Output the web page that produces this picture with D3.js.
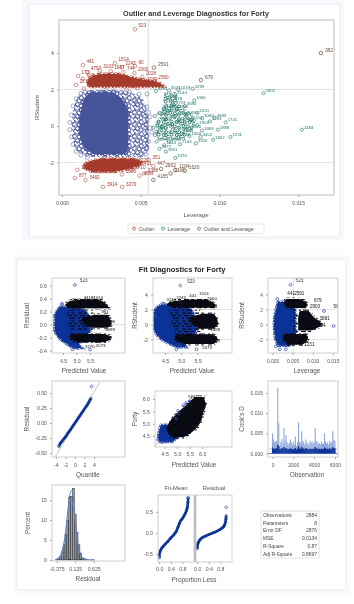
<!DOCTYPE html>
<html><head><meta charset="utf-8">
<script src="https://cdn.jsdelivr.net/npm/d3@7/dist/d3.min.js"></script>
<style>
html,body{margin:0;padding:0;background:#fff}
svg{display:block;filter:blur(0.35px)}
text{font-family:"Liberation Sans",Arial,sans-serif}
</style></head><body>
<svg id="c" width="354" height="604"></svg>
<script>
// ---------- data ----------
const topBlueRows=[[1.85,.0018,.0032],[1.5,.0014,.0038],[.8,.0012,.0042],[0,.0011,.0042],[-.8,.0012,.0042],[-1.25,.0015,.0042],[-1.55,.002,.004]];
const topBlueSpeck=[[1.95,.0014,.0038],[1.6,.001,.0050],[.8,.0007,.0054],[0,.0006,.0055],[-.8,.0007,.0055],[-1.3,.0009,.0055],[-1.7,.0016,.0051]];
const topBluePts=[[.0012,1.8],[.0009,1.5],[.0007,1.1],[.0006,.6],[.0005,.2],[.0005,-.2],[.0006,-.6],[.0007,-1],[.0009,-1.4],[.0012,-1.6],[.0016,-1.72],[.0028,1.98],[.0033,1.9],[.0037,1.82],[.0047,1.3],[.0052,1.02],[.0052,.55],[.0054,.3],[.0053,.05],[.0053,-.25],[.0054,-.55],[.0052,-.95],[.0054,-1.2],[.0053,-1.55],[.0049,-1.78],[.0054,1.75],[.0049,1.75],[.0043,1.85],[.0055,-.85],[.0056,-.1],[.0055,.75],[.0054,1.05],[.0056,.5],[.0057,-.35]];
const topRedHighRows=[[2.85,.0024,.0036],[2.6,.0017,.0048],[2.35,.0016,.0062],[2.15,.0018,.0065]];
const topRedHigh=[[.00464,5.3,"523"],[.00133,3.34,"441"],[.00337,3.45,"1514"],[.00381,3.23,"2243"],[.00464,3.29,"60"],[.00102,2.74,"173"],[.00133,2.58,"613"],[.00089,2.25,"22"],[.00162,2.95,"4797"],[.0024,3.05,"3103"],[.0031,3.0,"1987"],[.0039,2.95,"744"],[.0046,2.9,"2006"],[.0051,2.7,"1028"],[.0052,2.38,"3099"],[.0059,2.45,"2560"],[.0048,2.08,"1511"],[.0041,2.0,"85"],[.0014,2.05,"2204"],[.0019,2.3,"301"]];
const topRedLowRows=[[-1.8,.0025,.0045],[-2.0,.0016,.0051],[-2.25,.0014,.0046],[-2.5,.0019,.0034]];
const topRedLow=[[.00098,-2.4,"2411"],[.00082,-2.85,"877"],[.00149,-2.96,"3482"],[.0026,-3.34,"3914"],[.00382,-3.34,"3270"],[.00492,-2.72,"4884"],[.0038,-2.65,"1095"],[.0044,-2.4,"2710"],[.0048,-2.2,"1431"],[.0055,-1.85,"351"],[.0058,-2.2,"447"],[.0046,-2.05,"1222"],[.0052,-2.6,"3388"]];
const topGreen=[[.00596,1.92,"4231"],[.0068,1.95,"3571"],[.0074,2.0,"1019"],[.0083,2.05,"5299"],[.0072,1.7,"3144"],[.0066,1.5,"1207"],[.0069,1.35,"2818"],[.0071,1.15,"1733"],[.0065,1.0,"4410"],[.0073,.95,"2905"],[.0078,1.1,"3680"],[.0084,1.4,"1466"],[.0062,.72,"5150"],[.0067,.7,"2298"],[.0072,.55,"4077"],[.0079,.62,"1650"],[.0086,.72,"3320"],[.0065,.4,"2722"],[.0074,.3,"1194"],[.0082,.35,"5511"],[.0089,.42,"3069"],[.0097,.45,"4683"],[.0061,.2,"1306"],[.007,.1,"2450"],[.0078,.15,"3847"],[.0086,.05,"1902"],[.0094,.25,"5203"],[.0104,.2,"1741"],[.0058,-.1,"2147"],[.0064,-.05,"3591"],[.0072,-.25,"1288"],[.0081,-.15,"4326"],[.0089,-.25,"1869"],[.0099,-.2,"1888"],[.0059,-.5,"3017"],[.0066,-.5,"5074"],[.0074,-.6,"2722"],[.0081,-.55,"1360"],[.0088,-.6,"4452"],[.0096,-.75,"1802"],[.0107,-.6,"1231"],[.006,-.85,"2299"],[.0068,-.85,"4918"],[.0075,-1.0,"7144"],[.0085,-.95,"3356"],[.0065,-1.05,"1544"],[.0062,-1.25,"2677"],[.0066,-1.4,"3901"],[.0072,-1.75,"1370"],[.0128,1.8,"5902"],[.01524,-.2,"1484"],[.0059,.55,"2008"],[.006,-.3,"3412"],[.0068,.95,"4102"],[.0076,-.4,"1633"]];
const topGreenRows=[[1.85,.0065,.0073],[1.2,.0064,.0074],[.7,.0063,.0082],[.2,.006,.0085],[-.3,.0059,.0082],[-.75,.0061,.0078]];
const topBrown=[[.00584,3.2,"2591"],[.00883,2.52,"679"],[.01645,4.0,"382"],[.0078,-2.45,"1620"],[.0063,-2.35,"2902"],[.0072,-2.4,"1184"],[.0058,-2.95,"4185"],[.0069,-2.6,"1166"]];

const p1BlackTop=[[.39,5.35,5.8],[.35,4.7,6.0],[.29,4.6,6.15],[.25,4.9,6.2]];
const p1BlackMid=[[.15,5.65,6.15],[.08,5.2,6.25],[0,5.35,6.3],[-.05,5.55,6.15]];
const p1BlackLow=[[-.145,4.85,6.0],[-.18,4.75,6.25],[-.22,4.8,6.25],[-.27,5.05,6.05]];
const p1Scrib=[[.22,4.6,5.7],[.1,4.7,5.5],[0,4.7,5.6],[-.1,4.8,5.6]];
const p1Blue=[[.27,4.4,5.0],[.2,4.25,5.35],[.1,4.2,5.45],[0,4.2,5.5],[-.1,4.2,5.5],[-.2,4.35,5.3],[-.3,4.65,5.1],[-.36,4.9,5.2]];
const p1Labels=[[5.0,.38,"3141"],[5.45,.41,"4418"],[5.8,.42,"1514"],[5.95,.3,"2006"],[6.1,.2,"981"],[4.8,.32,"2243"],[6.25,.05,"1028"],[6.25,-.08,"3099"],[6.15,-.2,"4121"],[5.9,-.32,"2073"],[5.5,-.34,"3270"]];
const p1Out=[[4.94,.61,"523"],[4.47,.32,""],[4.45,.31,""],[4.2,.14,""],[5.5,-.385,""],[4.85,-.38,""],[4.95,-.33,""]];

const p2BlackTop=[[3.35,5.35,5.8],[3.0,4.65,5.95],[2.6,4.55,6.05],[2.25,4.95,6.05]];
const p2BlackMid=[[1.45,5.65,6.0],[.8,5.25,6.1],[0,5.35,6.12],[-.55,5.55,6.0]];
const p2BlackLow=[[-1.3,4.9,5.95],[-1.7,4.8,6.1],[-2.1,4.85,6.1],[-2.6,5.1,6.0]];
const p2Scrib=[[2,4.6,5.6],[1,4.7,5.5],[0,4.7,5.5],[-1,4.8,5.6]];
const p2Blue=[[2.6,4.35,4.9],[2,4.2,5.3],[1,4.15,5.4],[0,4.15,5.45],[-1,4.2,5.45],[-1.8,4.35,5.3],[-2.5,4.6,5.1],[-3,4.9,5.15]];
const p2Labels=[[4.7,3.4,"3114"],[5.0,3.65,"2243"],[5.4,3.85,"441"],[5.7,4.1,"1514"],[5.95,3.5,"2560"],[6.05,2.4,"981"],[6.05,-.7,"1028"],[6.05,-2.1,"3099"],[5.8,-3,"2073"]];
const p2Out=[[4.97,5.2,"523"],[4.42,2.8,""],[4.47,2.75,""],[4.2,1.1,""],[5.47,-3.3,""],[4.85,-3.3,""],[4.95,-2.9,""]];

const p3BlackTop=[[3.4,.0034,.0066],[3,.0029,.0083],[2.6,.003,.0086],[2.2,.0036,.0083]];
const p3BlackMid=[[1.8,.0068,.009],[1,.0064,.0103],[0,.0064,.0122],[-.8,.0064,.0096]];
const p3BlackLow=[[-1.25,.003,.0083],[-1.7,.0026,.0088],[-2.2,.0029,.0086],[-2.7,.0039,.0073]];
const p3Scrib=[[2,.0054,.0068],[0,.0052,.0065],[-1,.0052,.0065]];
const p3Blue=[[3.0,.0014,.0048],[2,.0009,.0056],[1,.0005,.0057],[0,.0004,.0057],[-1,.0005,.0058],[-2,.0008,.0056],[-2.8,.0014,.0042]];
const p3Labels=[[.0032,3.9,"441"],[.0049,3.9,"2591"],[.0098,3.0,"679"],[.0088,2.2,"2903"],[.0112,.6,"3881"],[.0108,-.35,"144"],[.0074,-2.9,"1231"],[.0147,2.2,"580"]];
const p3Out=[[.0045,5.3,"523"],[.0128,1.8,""],[.0152,-.2,""],[.0012,3.4,""],[.0033,-3.3,""],[.0018,-3.3,""],[.0008,-2.9,""]];

const qqPts=[[-3.4,-.39],[-3.1,-.34],[-2.8,-.31],[-2.5,-.28],[-2.2,-.25],[-1.9,-.22],[-1.6,-.18],[-1.3,-.15],[-1,-.115],[-.7,-.08],[-.4,-.045],[-.1,-.01],[.2,.025],[.5,.06],[.8,.095],[1.1,.13],[1.4,.165],[1.7,.2],[2,.235],[2.3,.27],[2.6,.305],[2.9,.345],[3.2,.39],[3.35,.41]];
const qqOut=[[3.5,.61]];
const qqRef=[[-4.05,-.55],[5.3,.69]];

const p5Black=[[6.08,5.7,6.05],[5.75,5.35,6.15],[5.47,5.05,6.05],[5,4.65,5.9],[4.66,4.6,5.6],[4.45,4.8,5.25]];
const p5Blue=[[4.95,4.35,4.7],[4.7,4.28,4.9],[4.45,4.25,5.0],[4.27,4.3,4.8]];
const p5BlueEdge=[[5.03,5.53,""],[5.25,5.75,""],[5.35,5.85,""],[5.5,5.92,""],[5.05,5.4,""],[4.95,5.2,""],[4.22,4.35,""],[4.4,4.25,""]];
const p5Labels=[[5.6,6.1,"5631"]];
const p5Ref=[[4.05,4.05],[6.2,6.2]];

const cookLight=[.005,.0035,.0028,.003,.0032,.0162,.0075,.002,.0028,.0036,.0025,.0064,.0032,.0045,.0028,.0022,.0026,.0035,.0028,.0022,.003,.0022,.0042,.0018,.0028,.0077,.003,.0024,.0055,.0032,.0028,.0022,.0035,.0028,.0024,.0022,.0032,.0026,.003,.0024,.0028,.0063,.0032,.0028,.0024,.0026,.0022,.003,.0025,.0024,.005,.003,.0024,.0028,.0022,.0032,.0026,.0028,.0055,.0035,.0032];
const cookDark=[.0015,.0012,.0011,.0013,.0012,.0022,.0018,.001,.0011,.0014,.0012,.0016,.0012,.0014,.0012,.001,.0011,.0013,.0012,.001,.0012,.001,.0014,.0009,.0012,.0018,.0013,.0011,.0016,.0013,.0012,.001,.0014,.0012,.0011,.001,.0012,.0011,.0012,.0011,.0012,.0016,.0013,.0012,.0011,.0012,.001,.0012,.0011,.0011,.0015,.0013,.0011,.0012,.001,.0013,.0011,.0012,.0016,.0014,.0013];
const cookStep=100;
const histX0=[-.4,-.35,-.3,-.25,-.2,-.15,-.1,-.05,0,.05,.1,.15,.2,.25,.3,.35,.4,.6];
const histPct=[.1,.3,.8,2,3.8,6.5,10,15.8,16,18,11.5,7,3.8,1.6,.5,.3,.1,.03];
const histNormal=[[-.4,.05],[-.3,.6],[-.2,3.2],[-.12,8],[-.05,13.2],[.01,15.5],[.07,13.4],[.14,8],[.22,3],[.32,.5],[.42,.05],[.63,0]];
const histKernel=[[-.42,.05],[-.32,.5],[-.22,2.6],[-.14,6.8],[-.07,13],[-.02,16.5],[.03,17.5],[.08,15],[.14,8.5],[.22,3],[.32,.5],[.45,.1],[.63,.05]];
const rfFit=[[0,-.58],[.005,-.52],[.02,-.46],[.05,-.41],[.1,-.35],[.15,-.31],[.2,-.27],[.3,-.2],[.4,-.12],[.5,-.05],[.55,.0],[.6,.05],[.65,.14],[.7,.23],[.75,.3],[.8,.34],[.85,.4],[.9,.46],[.94,.53],[.97,.6],[.99,.72],[1,.83]];
const rfRes=[[0,-.38],[.005,-.33],[.015,-.28],[.03,-.24],[.06,-.2],[.1,-.16],[.15,-.125],[.22,-.095],[.3,-.07],[.4,-.04],[.5,-.01],[.6,.015],[.7,.05],[.78,.08],[.85,.11],[.9,.14],[.94,.18],[.97,.24],[.99,.33],[1,.41]];
const rfOut=[[1,.61]];
const statNames=["Observations","Parameters","Error DF","MSE","R-Square","Adj R-Square"];
const statValues=["2884","8","2876","0.0134","0.87","0.8697"];

const topXTicks=[0,.005,.01,.015], topYTicks=[-2,0,2,4];
// ---------- drawing ----------
const INK="#555", FRAME="#cfcfd2", REF="#e4e4e6";
const BLUE="#46549a", RED="#a63a2c", GREEN="#1f7467", BROWN="#6f4c30", NAVY="#0b3296", MARK="#2f4fb0", BLACK="#0a0a12";
const svg=d3.select("#c");
// textures standing in for piles of overlapping markers and labels
const defs=svg.append("defs");
const RING_SPOTS=[[.05,.1],[.42,.02],[.78,.17],[.2,.36],[.6,.4],[.92,.52],[.1,.68],[.45,.72],[.75,.82],[.3,.95]];
function ringTile(id,color,r,s){
  const t=defs.append("pattern").attr("id",id).attr("patternUnits","userSpaceOnUse").attr("width",s).attr("height",s);
  RING_SPOTS.forEach(c=>t.append("circle").attr("cx",c[0]*s).attr("cy",c[1]*s).attr("r",r).attr("fill","none").attr("stroke",color).attr("stroke-width",.9));
}
ringTile("rBlue",BLUE,2,12);ringTile("rRed",RED,1.7,10);ringTile("rGreen",GREEN,1.5,13);ringTile("rNavy",NAVY,1.3,8);
function scribTile(id,color){
  const t=defs.append("pattern").attr("id",id).attr("patternUnits","userSpaceOnUse").attr("width",13).attr("height",8);
  [[0,.5,4],[6,.5,3],[2,3,5],[9,3,3],[0,5.5,2],[4,5.5,6]].forEach(d=>t.append("rect").attr("x",d[0]).attr("y",d[1]).attr("width",d[2]).attr("height",1.2).attr("fill",color));
}
scribTile("sBlack",BLACK);

function rect(x,y,w,h,fill,stroke){return svg.append("rect").attr("x",x).attr("y",y).attr("width",w).attr("height",h).attr("fill",fill).attr("stroke",stroke||"none").attr("stroke-width",1);}
function txt(g,x,y,s,size,opt={}){return g.append("text").attr("x",x).attr("y",y).text(s).attr("font-size",size).attr("fill",opt.fill||INK).attr("text-anchor",opt.anchor||"middle").attr("font-weight",opt.weight||"normal");}

rect(22,0,322,240,"#f8f9fe");
rect(29,4,311,233,"#fff","#eaeaee");
rect(14,255,336,340,"#f8f9fe");
rect(17,259,329,331,"#fff","#eaeaee");
txt(svg,196,16,"Outlier and Leverage Diagnostics for Forty",7.2,{weight:"bold",fill:"#333"});
txt(svg,182,272,"Fit Diagnostics for Forty",7.5,{weight:"bold",fill:"#222"});

const hy=f=>d=>f(d).replace("\u2212","-");
function panel(o){
  const g=svg.append("g");
  const x=d3.scaleLinear().domain(o.xd).range([o.x0,o.x1]);
  const y=d3.scaleLinear().domain(o.yd).range([o.y1,o.y0]);
  const id="cl"+(panel.n=(panel.n||0)+1);
  svg.append("clipPath").attr("id",id).append("rect").attr("x",o.x0).attr("y",o.y0).attr("width",o.x1-o.x0).attr("height",o.y1-o.y0);
  const body=g.append("g").attr("clip-path",`url(#${id})`);
  g.append("rect").attr("x",o.x0).attr("y",o.y0).attr("width",o.x1-o.x0).attr("height",o.y1-o.y0).attr("fill","none").attr("stroke",FRAME).attr("stroke-width",o.fw||1);
  if(o.xt){const a=g.append("g").attr("transform",`translate(0,${o.y1})`).call(d3.axisBottom(x).tickValues(o.xt).tickSize(2).tickPadding(o.xp||4.5).tickFormat(hy(o.xf)));style(a,o.ts);}
  if(o.yt){const a=g.append("g").attr("transform",`translate(${o.x0},0)`).call(d3.axisLeft(y).tickValues(o.yt).tickSize(2).tickPadding(3).tickFormat(hy(o.yf)));style(a,o.ts);}
  if(o.xl)txt(g,(o.xlx||(o.x0+o.x1)/2),o.y1+o.xlo,o.xl,o.ls||6.4);
  if(o.yl)g.append("text").attr("transform",`translate(${o.ylx},${(o.y0+o.y1)/2}) rotate(-90)`).attr("text-anchor","middle").attr("font-size",o.ls||6.4).attr("fill",INK).text(o.yl);
  return {x,y,body,g};
}
function style(a,ts){a.select(".domain").remove();a.selectAll("line").attr("stroke","#aaa");a.selectAll("text").attr("font-size",ts||5.2).attr("fill",INK).attr("font-family",'"Liberation Sans",Arial,sans-serif');}
function band(p,rows,fill,edge,ew){
  const a=d3.area().y(r=>p.y(r[0])).x0(r=>p.x(r[1])).x1(r=>p.x(r[2])).curve(d3.curveCatmullRom);
  p.body.append("path").attr("d",a(rows)).attr("fill",fill).attr("stroke",edge?`url(#${edge})`:"none").attr("stroke-width",ew||4);
}
function dots(p,pts,color,r,sw,op){
  p.body.append("g").selectAll("circle").data(pts).join("circle").attr("cx",d=>p.x(d[0])).attr("cy",d=>p.y(d[1])).attr("r",r).attr("fill","none").attr("stroke",color).attr("stroke-width",sw||.6).attr("stroke-opacity",op==null?1:op);
}
function labels(p,pts,color,size,dx,dy){
  p.body.append("g").selectAll("text").data(pts.filter(d=>d[2])).join("text").attr("x",d=>p.x(d[0])+(dx||0)).attr("y",d=>p.y(d[1])+(dy||0)).text(d=>d[2]).attr("font-size",size).attr("fill",color);
}
function hv(p,hs,vs,w){
  hs.forEach(h=>p.body.append("line").attr("x1",p.x.range()[0]).attr("x2",p.x.range()[1]).attr("y1",p.y(h)).attr("y2",p.y(h)).attr("stroke",REF).attr("stroke-width",w||1));
  vs.forEach(v=>p.body.append("line").attr("y1",p.y.range()[0]).attr("y2",p.y.range()[1]).attr("x1",p.x(v)).attr("x2",p.x(v)).attr("stroke",REF).attr("stroke-width",w||1.5));
}
// top chart
{
 const p=panel({x0:59,x1:334,y0:20,y1:195,xd:[-.00019,.01728],yd:[-3.78,5.81],xt:topXTicks,yt:topYTicks,xf:d3.format(".3f"),yf:d3.format("d"),xl:"Leverage",xlo:22,xlx:196,yl:"RStudent",ylx:39,ts:5.2,ls:6,fw:1.4});
 hv(p,[-2,2],[.00548]);
 band(p,topBlueSpeck,"url(#rBlue)");
 band(p,topBlueRows,BLUE,"rBlue",4);
 dots(p,topBluePts,BLUE,2,.6,.8);
 band(p,topGreenRows,"url(#rGreen)");
 band(p,topRedHighRows,RED,"rRed",3);band(p,topRedLowRows,RED,"rRed",3);
 dots(p,topRedHigh,RED,1.8,.6,.85);labels(p,topRedHigh,RED,4.6,3.5,-2);
 dots(p,topRedLow,RED,1.8,.6,.85);labels(p,topRedLow,RED,4.6,4,-1);
 dots(p,topGreen,GREEN,1.6,.65,.95);labels(p,topGreen,GREEN,4.3,2,-1);
 dots(p,topBrown,BROWN,1.8,.7);labels(p,topBrown,BROWN,4.8,4,-1.5);
 rect(128,224,136,9.5,"#fff","#e6e6e8");
 const leg=[[134,RED,"Outlier"],[163,GREEN,"Leverage"],[199,BROWN,"Outlier and Leverage"]];
 leg.forEach(l=>{svg.append("circle").attr("cx",l[0]).attr("cy",228.5).attr("r",1.5).attr("fill","none").attr("stroke",l[1]).attr("stroke-width",.7);txt(svg,l[0]+4.5,231,l[2],5.4,{anchor:"start"});});
}
const Y1={y0:278,y1:353}, Y2={y0:381,y1:457};
function cloud(p,blue,scrib,blacks,lab,out,size,dx,dy,odx){
 band(p,blue,NAVY,"rNavy",3);
 band(p,scrib,"url(#sBlack)");
 blacks.forEach(r=>band(p,r,BLACK,"sBlack",3));
 labels(p,lab,"#111",size,dx,dy);
 dots(p,out,MARK,1.4,.7);labels(p,[out[0]],"#333",4.6,odx,-3);
}
{
 const p=panel({...Y1,x0:52,x1:125,xd:[4.093,6.797],yd:[-.437,.717],xt:[4.5,5,5.5],yt:[-.4,-.2,0,.2,.4,.6],xf:d3.format(".1f"),yf:d3.format(".1f"),xl:"Predicted Value",xlo:20,xlx:84,yl:"Residual",ylx:29});
 hv(p,[0],[],1.2);
 cloud(p,p1Blue,p1Scrib,[p1BlackTop,p1BlackMid,p1BlackLow],p1Labels,p1Out,4.4,-5,1.5,5);
}
{
 const p=panel({...Y1,x0:153,x1:232,xd:[4.131,6.562],yd:[-3.8,6.2],xt:[4.5,5,5.5],yt:[-2,0,2,4],xf:d3.format(".1f"),yf:d3.format("d"),xl:"Predicted Value",xlo:20,xlx:192,yl:"RStudent",ylx:137});
 hv(p,[-2,2],[],1.2);
 cloud(p,p2Blue,p2Scrib,[p2BlackTop,p2BlackMid,p2BlackLow],p2Labels,p2Out,4.4,-5,1.5,7);
}
{
 const p=panel({...Y1,x0:268,x1:338,xd:[-.00112,.01629],yd:[-3.8,6.2],xt:[0,.005,.01,.015],yt:[-2,0,2,4],xf:d3.format(".3f"),yf:d3.format("d"),xl:"Leverage",xlo:20,xlx:307,yl:"RStudent",ylx:244,ts:4.9});
 hv(p,[-2,2],[.0052],1.2);
 cloud(p,p3Blue,p3Scrib,[p3BlackTop,p3BlackMid,p3BlackLow],p3Labels,p3Out,4.6,2,0,5);
}
{
 const p=panel({...Y2,x0:52,x1:125,xd:[-4.82,10.5],yd:[-.565,.7],xt:[-4,-2,0,2,4],yt:[-.5,-.25,0,.25,.5],xf:d3.format("d"),yf:d3.format(".2f"),xl:"Quantile",xlo:20,xlx:88,yl:"Residual",ylx:29});
 p.body.append("path").attr("d",d3.line().x(d=>p.x(d[0])).y(d=>p.y(d[1]))(qqRef)).attr("stroke","#aaa").attr("fill","none").attr("stroke-width",.7);
 p.body.append("path").attr("d",d3.line().x(d=>p.x(d[0])).y(d=>p.y(d[1]))(qqPts)).attr("stroke",NAVY).attr("fill","none").attr("stroke-width",2.4);
 dots(p,qqPts,NAVY,1.3,.6);dots(p,qqOut,MARK,1.4,.7);
}
{
 const p=panel({y0:391,y1:447,x0:155,x1:232,xd:[4.112,7.192],yd:[4.055,6.325],xt:[4.5,5,5.5,6],yt:[4.5,5,5.5,6],xf:d3.format(".1f"),yf:d3.format(".1f"),xl:"Predicted Value",xlo:20,xlx:194,yl:"Forty",ylx:137,xp:3.5});
 p.body.append("path").attr("d",d3.line().x(d=>p.x(d[0])).y(d=>p.y(d[1]))(p5Ref)).attr("stroke","#aaa").attr("fill","none").attr("stroke-width",.7);
 band(p,p5Blue,NAVY,"rNavy",3);band(p,p5Black,BLACK,"sBlack",3);
 dots(p,p5BlueEdge,MARK,1.3,.7);
 labels(p,p5Labels,"#111",4.4,-4,1);
}
{
 const p=panel({...Y2,x0:268,x1:338,xd:[-440,6300],yd:[-.00085,.01795],xt:[0,2000,4000,6000],yt:[0,.005,.01,.015],xf:d3.format("d"),yf:d3.format(".3f"),xl:"Observation",xlo:20,xlx:307,yl:"Cook's D",ylx:244,ts:5});
 hv(p,[.0012],[],2);
 const needle=(vals,col,w)=>p.body.append("g").selectAll("line").data(vals).join("line").attr("x1",(d,i)=>p.x(i*cookStep)).attr("x2",(d,i)=>p.x(i*cookStep)).attr("y1",p.y(0)).attr("y2",d=>p.y(d)).attr("stroke",col).attr("stroke-width",w);
 needle(cookLight,"#8ea4dc",1.1);needle(cookDark,NAVY,1.3);
 p.body.append("line").attr("x1",268).attr("x2",338).attr("y1",p.y(0)).attr("y2",p.y(0)).attr("stroke","#3a62c0").attr("stroke-width",.8);
}
{
 const p=panel({y0:485,y1:561,x0:52,x1:125,xd:[-.503,1.47],yd:[-.27,18.85],xt:[-.375,.125,.625],yt:[0,5,10,15],xf:d3.format(".3f"),yf:d3.format("d"),xl:"Residual",xlo:20,xlx:88,yl:"Percent",ylx:30,xp:4});
 const w=p.x(.05)-p.x(0);
 p.body.append("g").selectAll("rect").data(histX0).join("rect").attr("x",d=>p.x(d)).attr("width",w).attr("y",(d,i)=>p.y(histPct[i])).attr("height",(d,i)=>p.y(0)-p.y(histPct[i])).attr("fill","#9aa0ad").attr("stroke","#222").attr("stroke-width",.5);
 const ln=d3.line().x(d=>p.x(d[0])).y(d=>p.y(d[1])).curve(d3.curveCatmullRom);
 p.body.append("path").attr("d",ln(histNormal)).attr("fill","none").attr("stroke","#6f8cc8").attr("stroke-width",.8);
 p.body.append("path").attr("d",ln(histKernel)).attr("fill","none").attr("stroke","#5f7fc4").attr("stroke-width",.9);
}
{
 const base={y0:495,y1:562,yd:[-.69,.9],xd:[-.04,1.2]};
 const a=panel({...base,x0:158,x1:194,xt:[0,.4,.8],yt:[-.5,0,.5],xf:d3.format(".1f"),yf:d3.format(".1f"),xp:3});
 const b=panel({...base,x0:196,x1:232,xt:[0,.4,.8],xf:d3.format(".1f"),xp:3});
 [[a,rfFit],[b,rfRes]].forEach(([p,d])=>{
  p.body.append("path").attr("d",d3.line().x(e=>p.x(e[0])).y(e=>p.y(e[1]))(d)).attr("stroke",NAVY).attr("fill","none").attr("stroke-width",2.6);
  dots(p,d,NAVY,1.2,.6);
 });
 dots(a,[rfFit[rfFit.length-1],rfFit[0]],MARK,1.5,.7);
 dots(b,rfOut,MARK,1.3,.7);
 svg.append("rect").attr("x",194).attr("y",495).attr("width",2).attr("height",67).attr("fill","#bdbdc2");
 txt(svg,176,490,"Fit-Mean",5.8);txt(svg,214,490,"Residual",5.8);
 txt(svg,194,582,"Proportion Less",6.4);
}
{
 rect(261,511,58,47,"#fff","#e2e2e6");
 const rowY=d3.scaleBand().domain(statNames).range([511,558]);
 statNames.forEach((n,i)=>{
  txt(svg,263,rowY(n)+5.7,n,4.9,{anchor:"start",fill:"#444"});
  txt(svg,317,rowY(n)+5.7,statValues[i],4.9,{anchor:"end",fill:"#444"});
 });
}
</script>
</body></html>
